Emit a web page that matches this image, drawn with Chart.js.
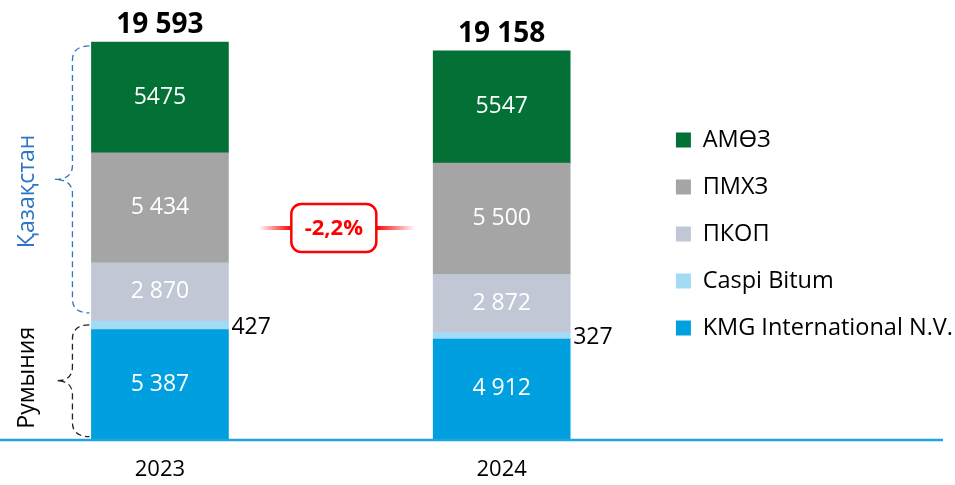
<!DOCTYPE html>
<html>
<head>
<meta charset="utf-8">
<script src="https://cdn.jsdelivr.net/npm/chart.js@4.4.0/dist/chart.umd.min.js"></script>
<style>
  html, body { margin: 0; padding: 0; background: #fff; }
</style>
</head>
<body>
<canvas id="refining" width="955" height="485"></canvas>
<script>
// data (thousand tonnes)
const years = [2023, 2024];
const kmgInternational = [5387, 4912];
const caspiBitum = [427, 327];
const pkop = [2870, 2872];
const pmhz = [5434, 5500];
const amoz = [5475, 5547];

const seriesNames = ['KMG International N.V.', 'Caspi Bitum', 'ПКОП', 'ПМХЗ', 'АМӨЗ'];
const seriesValues = [kmgInternational, caspiBitum, pkop, pmhz, amoz];
const seriesColors = ['#009fe0', '#a3daf5', '#c1c7d5', '#a5a5a5', '#037036'];
const regionLabels = ['Қазақстан', 'Румыния'];

const FONT = 'Open Sans';

// thousands with a space, АМӨЗ in the source is written without one
function fmt(v, sep) {
    const s = String(v);
    return sep ? s.replace(/\B(?=(\d{3})+(?!\d))/g, ' ') : s;
}

const totals = years.map((y, i) => seriesValues.reduce((s, arr) => s + arr[i], 0));

const valueLabels = {
    id: 'valueLabels',
    afterDatasetsDraw(chart) {
        const ctx = chart.ctx;
        ctx.save();
        ctx.textBaseline = 'middle';
        ctx.font = '23px "' + FONT + '"';
        chart.data.datasets.forEach((ds, di) => {
            const meta = chart.getDatasetMeta(di);
            meta.data.forEach((bar, i) => {
                const v = ds.data[i].y;
                const midY = (bar.y + bar.base) / 2;
                if (ds.labelOutside) {
                    ctx.fillStyle = '#000';
                    ctx.textAlign = 'left';
                    ctx.fillText(fmt(v, true), bar.x + bar.width / 2 + 3, midY + 2);
                } else {
                    ctx.fillStyle = '#fff';
                    ctx.textAlign = 'center';
                    ctx.fillText(fmt(v, ds.sep), bar.x, midY);
                }
            });
        });
        // totals above the bars
        const topMeta = chart.getDatasetMeta(chart.data.datasets.length - 1);
        ctx.font = 'bold 28px "' + FONT + '"';
        ctx.fillStyle = '#000';
        ctx.textAlign = 'center';
        topMeta.data.forEach((bar, i) => {
            ctx.fillText(fmt(totals[i], true), bar.x, bar.y - 17);
        });
        ctx.restore();
    }
};

function brace(ctx, xEnd, xMid, xTip, yTop, yBot) {
    const r = 14;
    const yTip = (yTop + yBot) / 2;
    ctx.beginPath();
    ctx.moveTo(xEnd, yTop);
    ctx.quadraticCurveTo(xMid, yTop, xMid, yTop + r);
    ctx.lineTo(xMid, yTip - r);
    ctx.quadraticCurveTo(xMid, yTip, xTip, yTip);
    ctx.quadraticCurveTo(xMid, yTip, xMid, yTip + r);
    ctx.lineTo(xMid, yBot - r);
    ctx.quadraticCurveTo(xMid, yBot, xEnd, yBot);
    ctx.stroke();
    return yTip;
}

const decorations = {
    id: 'decorations',
    afterDraw(chart) {
        const ctx = chart.ctx;
        const y = chart.scales.y;
        const bars = chart.getDatasetMeta(0).data;
        const first = bars[0];
        const barLeft = first.x - first.width / 2;
        ctx.save();

        // base line across the whole slide
        ctx.strokeStyle = '#1ea5e1';
        ctx.lineWidth = 2.5;
        ctx.beginPath();
        ctx.moveTo(0, y.getPixelForValue(0) + 1.5);
        ctx.lineTo(943, y.getPixelForValue(0) + 1.5);
        ctx.stroke();

        // region braces next to the 2023 bar
        const splitPx = y.getPixelForValue(kmgInternational[0] + caspiBitum[0]);
        ctx.setLineDash([6, 4]);
        ctx.lineWidth = 1.3;
        ctx.strokeStyle = '#2e75c6';
        const kzTip = brace(ctx, barLeft - 2, barLeft - 19, barLeft - 37,
            y.getPixelForValue(totals[0]) + 4, splitPx - 8);
        ctx.strokeStyle = '#222';
        const roTip = brace(ctx, barLeft - 2, barLeft - 19, barLeft - 35,
            splitPx + 4, y.getPixelForValue(0) - 2);
        ctx.setLineDash([]);

        ctx.font = '23px "' + FONT + '"';
        ctx.textAlign = 'center';
        ctx.textBaseline = 'middle';
        ctx.save();
        ctx.translate(27, kzTip + 12);
        ctx.rotate(-Math.PI / 2);
        ctx.fillStyle = '#2e75c6';
        ctx.fillText(regionLabels[0], 0, 0);
        ctx.restore();
        ctx.save();
        ctx.translate(27, roTip - 3);
        ctx.rotate(-Math.PI / 2);
        ctx.fillStyle = '#000';
        ctx.fillText(regionLabels[1], 0, 0);
        ctx.restore();

        // change badge between the bars
        const cx = (bars[0].x + bars[1].x) / 2 + 3;
        const cy = 228;
        const w = 85, h = 48, rad = 10;
        const change = (totals[1] / totals[0] - 1) * 100;
        const changeText = (change > 0 ? '+' : '') + change.toFixed(1).replace('.', ',') + '%';

        let g = ctx.createLinearGradient(cx - 75, 0, cx - w / 2, 0);
        g.addColorStop(0, 'rgba(255,0,0,0)');
        g.addColorStop(1, 'rgba(255,0,0,1)');
        ctx.strokeStyle = g;
        ctx.lineWidth = 4;
        ctx.beginPath();
        ctx.moveTo(cx - 75, cy);
        ctx.lineTo(cx - w / 2, cy);
        ctx.stroke();
        g = ctx.createLinearGradient(cx + w / 2, 0, cx + 81, 0);
        g.addColorStop(0, 'rgba(255,0,0,1)');
        g.addColorStop(1, 'rgba(255,0,0,0)');
        ctx.strokeStyle = g;
        ctx.beginPath();
        ctx.moveTo(cx + w / 2, cy);
        ctx.lineTo(cx + 81, cy);
        ctx.stroke();

        const x0 = cx - w / 2, y0 = cy - h / 2;
        ctx.beginPath();
        ctx.moveTo(x0 + rad, y0);
        ctx.arcTo(x0 + w, y0, x0 + w, y0 + h, rad);
        ctx.arcTo(x0 + w, y0 + h, x0, y0 + h, rad);
        ctx.arcTo(x0, y0 + h, x0, y0, rad);
        ctx.arcTo(x0, y0, x0 + w, y0, rad);
        ctx.closePath();
        ctx.fillStyle = '#fff';
        ctx.fill();
        ctx.strokeStyle = '#ff0000';
        ctx.lineWidth = 2.5;
        ctx.stroke();
        ctx.fillStyle = '#ff0000';
        ctx.font = 'bold 22px "' + FONT + '"';
        ctx.fillText(changeText, cx, cy + 1);

        ctx.restore();
    }
};

const datasets = seriesNames.map((name, k) => ({
    label: name,
    data: years.map((yr, i) => ({ x: yr, y: seriesValues[k][i] })),
    backgroundColor: seriesColors[k],
    borderWidth: 0,
    barThickness: 137,
    sep: name !== 'АМӨЗ',
    labelOutside: name === 'Caspi Bitum'
}));

Chart.defaults.font.family = FONT;

const ctx = document.getElementById('refining').getContext('2d');
const refiningChart = new Chart(ctx, {
    type: 'bar',
    data: { datasets: datasets },
    options: {
        responsive: false,
        animation: false,
        devicePixelRatio: 1,
        layout: { padding: { top: 0, right: -8, bottom: 0, left: 0 } },
        scales: {
            x: {
                type: 'linear',
                stacked: true,
                offset: false,
                min: 2022.532,
                max: 2024.441,
                grid: { display: false, drawTicks: false, offset: false },
                border: { display: false },
                afterBuildTicks: (s) => { s.ticks = years.map(v => ({ value: v })); },
                ticks: {
                    autoSkip: false,
                    maxRotation: 0,
                    padding: 2,
                    color: '#000',
                    font: { size: 22, lineHeight: 1.2 },
                    callback: (v) => String(v)
                }
            },
            y: {
                display: false,
                stacked: true,
                // a little room under zero so the year labels sit lower
                min: -790,
                max: 21666
            }
        },
        plugins: {
            legend: {
                position: 'right',
                align: 'start',
                reverse: true,
                // empty title only used to push the list down
                title: { display: true, text: '', font: { size: 12, lineHeight: 1.2 }, padding: { top: 90.35, bottom: 0 } },
                labels: {
                    boxWidth: 15,
                    boxHeight: 15,
                    padding: 23.5,
                    color: '#000',
                    font: { size: 23.5 }
                }
            },
            tooltip: { enabled: false }
        }
    },
    plugins: [valueLabels, decorations]
});
</script>
</body>
</html>
